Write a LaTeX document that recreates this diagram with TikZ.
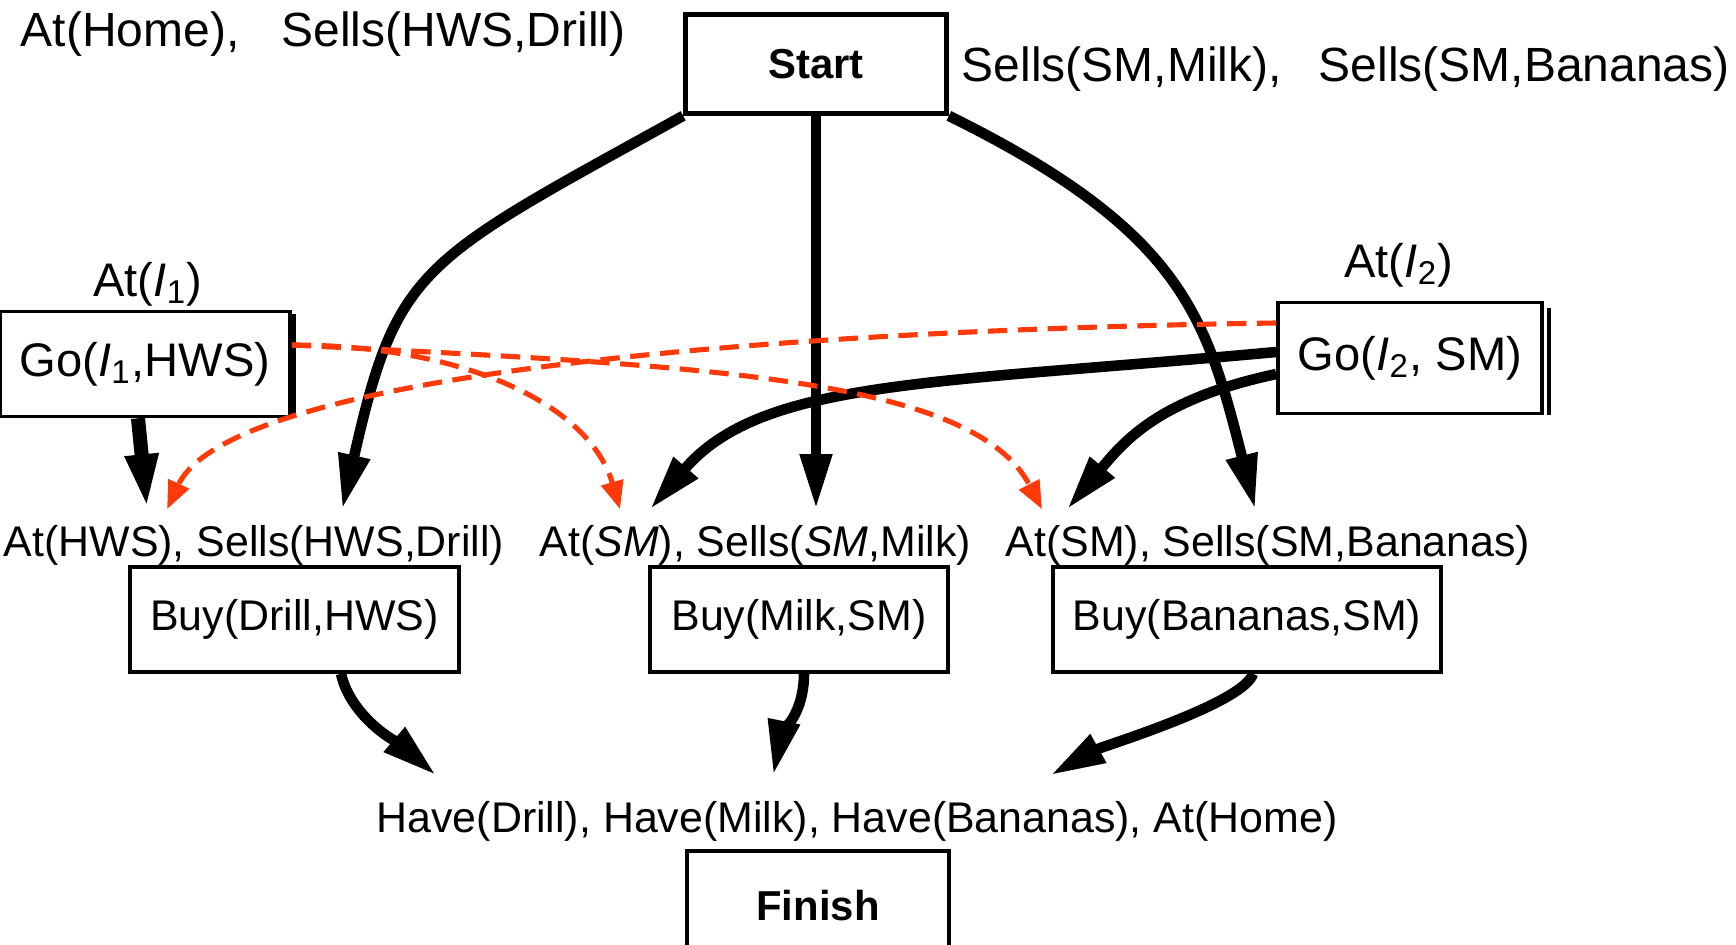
\documentclass[tikz,border=0pt]{standalone}
\usepackage{fontspec}
\setmainfont{Liberation Sans}
\usetikzlibrary{arrows.meta}
\definecolor{threatred}{RGB}{255,58,8}
\newcommand{\normfont}{\fontsize{12.2pt}{14pt}\selectfont}
\newcommand{\bigfont}{\fontsize{13.4pt}{16pt}\selectfont}
\newcommand{\topfont}{\fontsize{13.65pt}{16pt}\selectfont}
\newcommand{\termfont}{\fontsize{11.9pt}{14pt}\selectfont\bfseries}
\newcommand{\vI}[1]{\textit{I}\textsubscript{#1}}
\tikzset{
  actbox/.style={draw, line width=1pt, inner sep=0pt, font=\normfont},
  termbox/.style={draw, line width=1.3pt, inner sep=0pt, font=\termfont},
  lit/.style={inner xsep=0pt, inner ysep=1.5mm, anchor=base west, font=\normfont},
  cond/.style={inner sep=0pt, anchor=base, font=\bigfont},
  link/.style={line width=3pt, -{Triangle[length=5.5mm,width=3mm]}},
  threat/.style={threatred, line width=1.45pt, dash pattern=on 5.5pt off 3pt, -{Triangle[length=2.8mm,width=2.2mm]}},
}

\begin{document}
\begin{tikzpicture}[x=0.01cm, y=-0.01cm]
    \useasboundingbox (0,0) rectangle (1736,944);

    % Start and Finish
    \node[termbox, minimum width=2.61cm, minimum height=0.99cm] (start) at (816,64) {Start};
    \node[lit, font=\topfont] (init1) at (20,46) {At(Home),\hspace{4.2mm}Sells(HWS,Drill)};
    \node[lit, font=\topfont] (init2) at (961,81) {Sells(SM,Milk),\hspace{3.7mm}Sells(SM,Bananas)};
    \node[termbox, minimum width=2.62cm, minimum height=1.1cm] (finish) at (818,906) {Finish};
    \node[lit, inner ysep=2.5mm] (goal) at (376,832) {Have(Drill), Have(Milk), Have(Bananas), At(Home)};

    % for the Go steps
    \node[actbox, font=\bigfont, minimum width=2.9cm, minimum height=1.05cm] (go1) at (145,364) {Go(\vI1,HWS)};
    \node[cond] (at1) at (148,296) {At(\vI1)};
    \draw[line width=1.2pt] ([shift={(2,4)}]go1.north east) -- ([shift={(2,0)}]go1.south east);
    \node[actbox, font=\bigfont, minimum width=2.64cm, minimum height=1.11cm] (go2) at (1410,358) {Go(\vI2, SM)};
    \node[cond] (at2) at (1399,277) {At(\vI2)};
    \draw[line width=1.2pt] ([shift={(5,7)}]go2.north east) -- ([shift={(5,0)}]go2.south east);

    % for the Buy steps
    \node[lit] (pa) at (3,556) {At(HWS), Sells(HWS,Drill)};
    \node[lit] (pb) at (539,556) {At(\textit{SM}), Sells(\textit{SM},Milk)};
    \node[lit] (pc) at (1005,556) {At(SM), Sells(SM,Bananas)};
    \node[actbox, minimum width=3.29cm, minimum height=1.05cm] (buyD) at (294.5,619.5) {Buy(Drill,HWS)};
    \node[actbox, minimum width=2.98cm, minimum height=1.05cm] (buyM) at (799,619.5) {Buy(Milk,SM)};
    \node[actbox, minimum width=3.88cm, minimum height=1.05cm] (buyB) at (1247,619.5) {Buy(Bananas,SM)};

    % causal links
    \draw[link] (start.south west) .. controls +(-264,146) and +(55,-244) .. ([xshift=33.9mm]pa.north west);
    \draw[link] (start.south) -- (start.south |- pb.north);
    \draw[link] (start.south east) .. controls +(233,115) and +(-49,-194) .. ([xshift=25mm]pc.north west);
    \draw[link, line width=4pt] ([xshift=-0.7mm]go1.south) -- ([xshift=14.4mm]pa.north west);
    \draw[link] ([yshift=0.6mm]go2.west) .. controls +(-349,32) and +(111,-129) .. ([xshift=11.1mm]pb.north west);
    \draw[link] ([yshift=-1.6mm]go2.west) .. controls +(-117,25) and +(58,-69) .. ([xshift=6.2mm]pc.north west);
    \draw[link] ([xshift=4.65mm]buyD.south) .. controls +(10,45) and +(-35,-30) .. ([xshift=6mm]goal.north west);
    \draw[link] ([xshift=0.5mm]buyM.south) .. controls +(0,40) and +(8,-40) .. ([xshift=39.7mm]goal.north west);
    \draw[link] ([xshift=0.6mm]buyB.south) .. controls +(-10,30) and +(52,-29) .. ([xshift=67.4mm]goal.north west);

    % threats
    \draw[threat] ([yshift=1.9mm]go1.east) .. controls +(170,0) and +(-31,-106) .. ([xshift=8.1mm]pb.north west);
    \draw[threat] ([yshift=1.9mm]go1.east) .. controls +(399,20) and +(-69,-133) .. ([xshift=3.7mm]pc.north west);
    \draw[threat] ([yshift=3.5mm]go2.west) .. controls +(-500,7) and +(63,-136) .. ([xshift=16.4mm]pa.north west);
\end{tikzpicture}
\end{document}
